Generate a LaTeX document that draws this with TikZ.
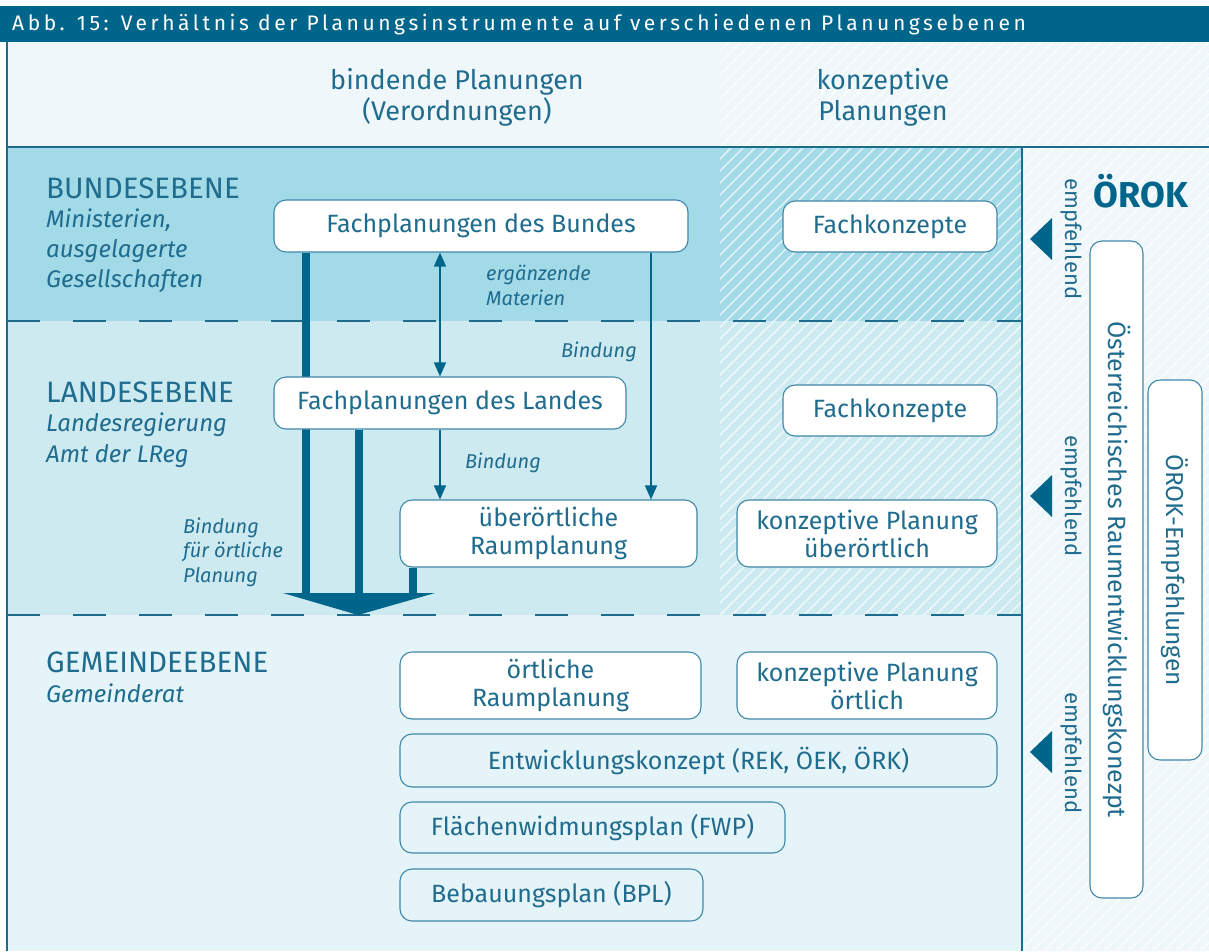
\documentclass[tikz,border=0pt]{standalone}
\usepackage{fontspec}
\setmainfont{Fira Sans}
\usetikzlibrary{arrows.meta}
\pgfdeclarelayer{bg}
\pgfdeclarelayer{mid}
\pgfsetlayers{bg,mid,main}
\definecolor{barc}{HTML}{00658A}
\definecolor{bandA}{HTML}{A3DAE8}
\definecolor{bandB}{HTML}{CDEAF1}
\definecolor{bandC}{HTML}{E4F4F8}
\definecolor{pale}{HTML}{EFF7FA}
\definecolor{linec}{HTML}{1D6B8D}
\definecolor{txt}{HTML}{1F6C8E}
\definecolor{boxc}{HTML}{3F87A8}
\tikzset{
  box/.style={draw=boxc, line width=1.1pt, rounded corners=12pt, fill=white, inner sep=0pt, align=center, text=txt, font=\fontsize{25}{28}\selectfont},
  openbox/.style={box, fill=none},
  level/.style={anchor=base west, text=txt, inner sep=0pt, font=\fontsize{29.5}{30}\selectfont},
  sublabel/.style={anchor=base west, text=txt, inner sep=0pt, font=\fontsize{24}{30}\itshape\selectfont},
  small/.style={anchor=base west, text=txt, inner sep=0pt, align=left, font=\fontsize{20}{24.5}\itshape\selectfont},
  head/.style={text=txt, align=center, inner sep=0pt, font=\fontsize{27}{31}\selectfont},
  vlabel/.style={text=txt, rotate=-90, inner sep=0pt, font=\fontsize{22}{24}\selectfont},
  thick bar/.style={draw=barc, line width=7.5pt},
  thin arrow/.style={draw=barc, line width=1.5pt, -{Triangle[length=14pt,width=12pt]}},
  dashline/.style={draw=linec, line width=1.5pt, dash pattern=on 33pt off 33pt},
  frame/.style={draw=linec, line width=1.2pt}
}
\begin{document}
\begin{tikzpicture}[x=1pt,y=-1pt]
\useasboundingbox (0,0) rectangle (1209,951);
\begin{pgfonlayer}{bg}
\fill[white] (0,0) rectangle (1209,951);
% title bar
\fill[barc] (0,6) rectangle (1209,42);
% backgrounds
\fill[pale] (7,42) rectangle (1209,147);
\fill[bandA] (7,147) rectangle (1022,321);
\fill[bandB] (7,321) rectangle (1022,615);
\fill[bandC] (7,615) rectangle (1022,951);
\fill[pale] (1022,147) rectangle (1209,951);
% hatching
\begin{scope}
\clip (720,42) rectangle (1209,615) (1022,615) rectangle (1209,951);
\foreach \i in {-252,-240,...,1212} \draw[white, opacity=0.8, line width=1.1pt] (\i,951) -- (\i+951,0);
\end{scope}
% frame lines
\draw[frame] (7,42) -- (7,951);
\draw[frame] (7,147) -- (1209,147);
\draw[frame] (1022,147) -- (1022,951);
\draw[dashline] (7,321) -- (1022,321);
\draw[dashline] (7,615) -- (1022,615);
\end{pgfonlayer}
\node[anchor=west, text=white, inner sep=0pt, font=\fontsize{21}{22}\selectfont\addfontfeatures{LetterSpace=17}] (title) at (12,25) {Abb. 15: Verhältnis der Planungsinstrumente auf verschiedenen Planungsebenen};
% header
\node[head] (hbind) at (457,97) {bindende Planungen\\(Verordnungen)};
\node[head] (hkonz) at (883,97) {konzeptive\\Planungen};
% level labels
\node[level] (lb) at (46,198) {BUNDESEBENE};
\node[sublabel] (lbs) at (46,227) {Ministerien,};
\node[sublabel] (lbs2) at (46,257) {ausgelagerte};
\node[sublabel] (lbs3) at (46,287) {Gesellschaften};
\node[level] (ll) at (46,402) {LANDESEBENE};
\node[sublabel] (lls) at (46,431) {Landesregierung};
\node[sublabel] (lls2) at (46,462) {Amt der LReg};
\node[level] (lg) at (46,672) {GEMEINDEEBENE};
\node[sublabel] (lgs) at (46,702) {Gemeinderat};
% boxes
\node[box, minimum width=414pt, minimum height=52pt] (bund) at (481,226) {Fachplanungen des Bundes};
\node[box, minimum width=214pt, minimum height=51pt] (fk1) at (890,226.5) {Fachkonzepte};
\node[box, minimum width=352pt, minimum height=52pt] (land) at (450,403) {Fachplanungen des Landes};
\node[box, minimum width=214pt, minimum height=51pt] (fk2) at (890,410.5) {Fachkonzepte};
\node[box, minimum width=297pt, minimum height=67pt] (ueber) at (548.5,533.5) {überörtliche\\Raumplanung};
\node[box, minimum width=260pt, minimum height=67pt] (kpue) at (867,533.5) {konzeptive Planung\\überörtlich};
\node[box, minimum width=301pt, minimum height=67pt] (oert) at (550.5,685.5) {örtliche\\Raumplanung};
\node[box, minimum width=260pt, minimum height=67pt] (kpo) at (867,685.5) {konzeptive Planung\\örtlich};
\node[openbox, minimum width=597pt, minimum height=53pt] (ek) at (698.5,760.5) {Entwicklungskonzept (REK, ÖEK, ÖRK)};
\node[openbox, minimum width=385pt, minimum height=51pt] (fwp) at (592.5,827.5) {Flächenwidmungsplan (FWP)};
\node[openbox, minimum width=303pt, minimum height=52pt] (bpl) at (551.5,895) {Bebauungsplan (BPL)};
% right column
\node[box, rotate=-90, minimum width=657pt, minimum height=53pt, font=\fontsize{25}{26}\selectfont] (oerek) at (1116.5,569.5) {Österreichisches Raumentwicklungskonezpt};
\node[box, rotate=-90, minimum width=380pt, minimum height=54pt, font=\fontsize{24.5}{26}\selectfont] (oerokemp) at (1175,570) {ÖROK-Empfehlungen};
\node[text=barc, inner sep=0pt, font=\fontsize{36}{38}\bfseries\selectfont] (orok) at (1141,191) {ÖROK};
\node[vlabel] (emp1) at (1071,239) {empfehlend};
\node[vlabel] (emp2) at (1071,496) {empfehlend};
\node[vlabel] (emp3) at (1071,753) {empfehlend};
\fill[barc] (1030,239) -- (1052,218) -- (1052,260) -- cycle;
\fill[barc] (1030,496) -- (1052,475) -- (1052,517) -- cycle;
\fill[barc] (1030,752) -- (1052,731) -- (1052,773) -- cycle;
% connectors
\coordinate (cA) at (440,0);
\coordinate (cB) at (651,0);
\coordinate (c1) at (306,0);
\coordinate (c2) at (359,0);
\coordinate (c3) at (413,0);
\coordinate (hl) at (283,593);
\coordinate (hr) at (435,593);
\coordinate (tip) at (358,615);
\begin{pgfonlayer}{mid}
\draw[thick bar] (bund.south -| c1) -- (hl -| c1);
\draw[thick bar] (land.south -| c2) -- (hl -| c2);
\draw[thick bar] (ueber.south -| c3) -- (hl -| c3);
\fill[barc] (hl) -- (hr) -- (tip) -- cycle;
\end{pgfonlayer}
\draw[thin arrow, {Triangle[length=14pt,width=12pt]}-{Triangle[length=14pt,width=12pt]}] (bund.south -| cA) -- (land.north -| cA);
\draw[thin arrow] (land.south -| cA) -- (ueber.north -| cA);
\draw[thin arrow] (bund.south -| cB) -- (ueber.north -| cB);
% connector labels
\node[small] (erg) at (486,305) {ergänzende\\Materien};
\node[small] (bind1) at (561,357) {Bindung};
\node[small] (bind2) at (465,468) {Bindung};
\node[small] (bind3) at (183,582) {Bindung\\für örtliche\\Planung};
\end{tikzpicture}
\end{document}
